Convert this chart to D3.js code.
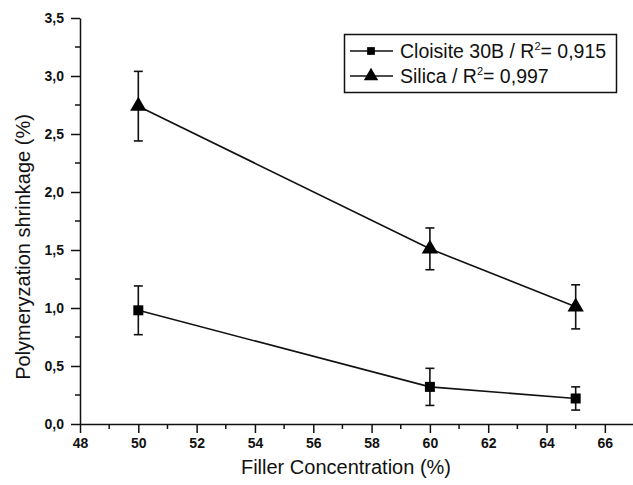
<!DOCTYPE html>
<html>
<head>
<meta charset="utf-8">
<script src="https://cdn.jsdelivr.net/npm/d3@7"></script>
<style>
  body { margin: 0; background: #fff; }
  text { font-family: "Liberation Sans", Arial, sans-serif; fill: #111; }
</style>
</head>
<body>
<script>
// chart size
var width = 633,
    height = 485;

// data
var concentration = [50, 60, 65];
var cloisite = [0.98, 0.32, 0.22];
var cloisiteErr = [0.21, 0.16, 0.10];
var silica = [2.74, 1.51, 1.01];
var silicaErr = [0.30, 0.18, 0.19];
var seriesNames = ['Cloisite 30B / R', 'Silica / R'];
var r2 = ['= 0,915', '= 0,997'];
var xTicks = [48, 50, 52, 54, 56, 58, 60, 62, 64, 66];
var yTicks = [0, 0.5, 1, 1.5, 2, 2.5, 3, 3.5];

var svg = d3.select('body')
  .append('svg')
  .attr('width', width)
  .attr('height', height);

var x = d3.scaleLinear().domain([48, 67]).range([80, 634]);
var y = d3.scaleLinear().domain([0, 3.5]).range([424, 18]);

var comma = function(d) { return d3.format('.1f')(d).replace('.', ','); };

// minor ticks
svg.append('g')
  .selectAll('line.xm')
  .data(d3.range(49, 67, 2))
  .enter().append('line')
  .attr('x1', function(d) { return x(d); })
  .attr('x2', function(d) { return x(d); })
  .attr('y1', 424).attr('y2', 429)
  .attr('stroke', '#111').attr('stroke-width', 1.5);

svg.append('g')
  .selectAll('line.ym')
  .data(d3.range(0.25, 3.5, 0.5))
  .enter().append('line')
  .attr('x1', 75).attr('x2', 80)
  .attr('y1', function(d) { return y(d); })
  .attr('y2', function(d) { return y(d); })
  .attr('stroke', '#111').attr('stroke-width', 1.5);

// axes
var xAxis = svg.append('g')
  .attr('transform', 'translate(0,424)')
  .call(d3.axisBottom(x).tickValues(xTicks).tickSize(9).tickPadding(5).tickSizeOuter(0));

var yAxis = svg.append('g')
  .attr('transform', 'translate(80,0)')
  .call(d3.axisLeft(y).tickValues(yTicks).tickFormat(comma).tickSize(9).tickPadding(7).tickSizeOuter(0));

[xAxis, yAxis].forEach(function(a) {
  a.selectAll('path, line').attr('stroke', '#111').attr('stroke-width', 1.5);
  a.selectAll('text')
    .style('font-family', '"Liberation Sans", Arial, sans-serif')
    .style('font-size', '14px')
    .style('font-weight', 'bold')
    .attr('fill', '#222');
});

// axis titles
svg.append('text')
  .attr('x', 346).attr('y', 474)
  .attr('text-anchor', 'middle')
  .style('font-size', '20px')
  .text('Filler Concentration (%)');

svg.append('text')
  .attr('transform', 'translate(30,247) rotate(-90)')
  .attr('text-anchor', 'middle')
  .style('font-size', '20px')
  .text('Polymeryzation shrinkage (%)');

var line = d3.line()
  .x(function(d) { return x(d.x); })
  .y(function(d) { return y(d.y); });

function series(values, errs, marker) {
  var pts = concentration.map(function(c, i) {
    return { x: c, y: values[i], e: errs[i] };
  });
  var g = svg.append('g');
  g.append('path')
    .datum(pts)
    .attr('d', line)
    .attr('fill', 'none')
    .attr('stroke', '#111')
    .attr('stroke-width', 1.6);

  var eb = g.selectAll('g.err').data(pts).enter().append('g');
  eb.append('line')
    .attr('x1', function(d) { return x(d.x); })
    .attr('x2', function(d) { return x(d.x); })
    .attr('y1', function(d) { return y(d.y + d.e); })
    .attr('y2', function(d) { return y(d.y - d.e); })
    .attr('stroke', '#111').attr('stroke-width', 1.6);
  eb.append('line')
    .attr('x1', function(d) { return x(d.x) - 4.5; })
    .attr('x2', function(d) { return x(d.x) + 4.5; })
    .attr('y1', function(d) { return y(d.y + d.e); })
    .attr('y2', function(d) { return y(d.y + d.e); })
    .attr('stroke', '#111').attr('stroke-width', 1.6);
  eb.append('line')
    .attr('x1', function(d) { return x(d.x) - 4.5; })
    .attr('x2', function(d) { return x(d.x) + 4.5; })
    .attr('y1', function(d) { return y(d.y - d.e); })
    .attr('y2', function(d) { return y(d.y - d.e); })
    .attr('stroke', '#111').attr('stroke-width', 1.6);

  g.selectAll('path.mk').data(pts).enter().append('path')
    .attr('d', d3.symbol().type(marker).size(marker === d3.symbolSquare ? 100 : 115))
    .attr('transform', function(d) { return 'translate(' + x(d.x) + ',' + y(d.y) + ')'; })
    .attr('fill', '#000');
}

series(cloisite, cloisiteErr, d3.symbolSquare);
series(silica, silicaErr, d3.symbolTriangle);

// legend
var legend = svg.append('g');
legend.append('rect')
  .attr('x', 344.5).attr('y', 34.5)
  .attr('width', 272).attr('height', 58)
  .attr('fill', '#fff').attr('stroke', '#111').attr('stroke-width', 1.5);

var markers = [d3.symbolSquare, d3.symbolTriangle];
seriesNames.forEach(function(name, i) {
  var ly = 51 + i * 25;
  legend.append('line')
    .attr('x1', 350).attr('x2', 393)
    .attr('y1', ly).attr('y2', ly)
    .attr('stroke', '#111').attr('stroke-width', 1.6);
  legend.append('path')
    .attr('d', d3.symbol().type(markers[i]).size(i === 0 ? 60 : 90))
    .attr('transform', 'translate(371,' + ly + ')')
    .attr('fill', '#000');
  var t = legend.append('text')
    .attr('x', 400).attr('y', ly + 7)
    .style('font-size', '19.5px');
  t.append('tspan').text(name);
  t.append('tspan').attr('dy', -8).style('font-size', '11px').text('2');
  t.append('tspan').attr('dy', 8).text(r2[i]);
});
</script>
</body>
</html>
